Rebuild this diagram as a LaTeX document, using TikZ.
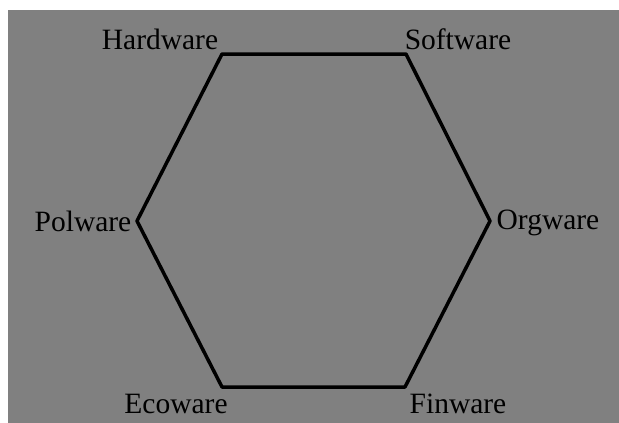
\documentclass[tikz,border=0pt]{standalone}
\usepackage{fontspec}
\setmainfont{Liberation Serif}
\definecolor{bggray}{RGB}{128,128,128}
\begin{document}
\begin{tikzpicture}[x=1pt,y=-1pt,
  lbl/.style={font=\fontsize{29.5}{32}\selectfont, text=black, inner sep=0pt},
  edge/.style={line width=3.5pt, line join=round, black}]
\useasboundingbox (0,0) rectangle (619,423);
\fill[white] (0,0) rectangle (619,423);
\fill[bggray] (8,10) rectangle (619,423);
\coordinate (H) at (222,54);
\coordinate (S) at (406,54);
\coordinate (O) at (490,221);
\coordinate (F) at (405,387);
\coordinate (E) at (222,387);
\coordinate (P) at (137,221);
\draw[edge] (H) -- (S) -- (O) -- (F) -- (E) -- (P) -- cycle;
\node[lbl] (lh) at (160,39) {Hardware};
\node[lbl] (ls) at (458,39) {Software};
\node[lbl] (lp) at (83,221) {Polware};
\node[lbl] (lo) at (548,223) {Orgware};
\node[lbl] (le) at (176,404) {Ecoware};
\node[lbl] (lf) at (458,404) {Finware};
\end{tikzpicture}
\end{document}
